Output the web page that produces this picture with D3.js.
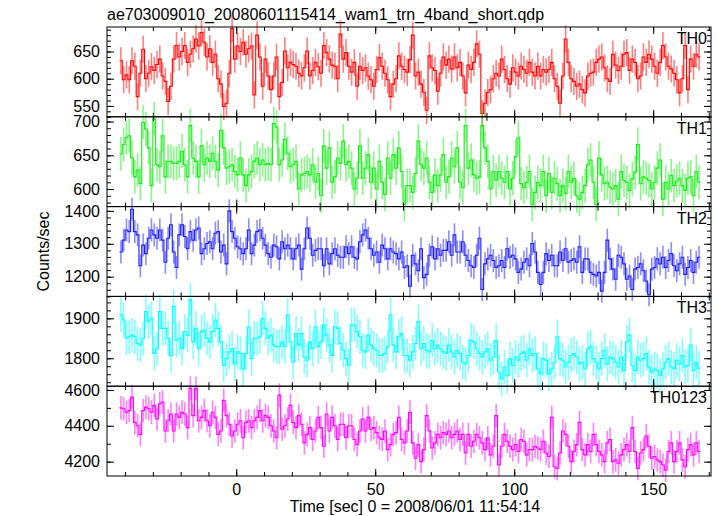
<!DOCTYPE html>
<html><head><meta charset="utf-8">
<script src="https://cdn.jsdelivr.net/npm/d3@7"></script>
<style>
body{margin:0;background:#fff}
text{font-family:"Liberation Sans",Arial,Helvetica,sans-serif;fill:#000}
</style>
</head><body>
<svg id="chart" width="717" height="516"></svg>
<script>
const titleText = "ae703009010_20080601115414_wam1_trn_4band_short.qdp";
const xLabelText = "Time [sec] 0 = 2008/06/01 11:54:14";
const yLabelText = "Counts/sec";
const panelNames = ["TH0", "TH1", "TH2", "TH3", "TH0123"];
const panelColors = ["#ff0000", "#11ee11", "#1a1aff", "#00ffff", "#ff00ff"];
const binStart = -42;   // left edge of first 1-s bin
const binWidth = 1;

const th0 = [
633,598,607,598,633,623,567,610,654,600,
610,622,615,626,636,605,595,558,586,636,
661,640,650,661,630,645,655,673,660,685,
667,640,655,630,645,600,590,549,555,610,
692,636,660,650,667,645,655,660,570,680,
640,586,636,605,580,605,640,567,593,651,
620,630,626,623,610,605,620,651,605,615,
630,622,610,661,648,636,625,623,600,682,
636,648,623,612,630,586,623,615,620,605,
598,586,617,639,623,610,598,567,590,600,
642,623,617,612,635,680,605,612,590,575,
542,642,620,615,577,610,640,625,636,618,
640,620,630,605,574,625,617,630,664,645,
536,555,575,580,600,610,605,636,617,600,
590,620,612,605,623,617,610,630,612,605,
623,605,617,612,617,630,600,586,555,605,
673,630,600,595,586,590,580,574,605,610,
612,630,636,640,620,600,595,645,625,615,
623,645,648,615,636,630,600,605,640,630,
645,636,623,610,630,661,640,623,618,610,
598,574,600,661,580,636,623,645,640
];
const th1 = [
652,666,676,679,646,618,628,608,699,689,
661,605,704,636,633,679,618,641,641,638,
638,641,656,636,618,694,646,641,618,664,
636,646,641,653,641,628,687,661,631,633,
636,626,621,646,621,605,621,626,641,646,
636,643,636,638,636,697,692,636,643,674,
653,633,636,641,600,621,623,626,621,636,
610,623,590,664,631,661,610,618,646,638,
671,636,641,631,600,616,664,616,631,651,
610,631,600,641,610,592,646,616,651,631,
661,626,577,605,605,595,623,671,636,631,
646,610,595,621,605,621,651,610,618,646,
633,661,610,602,694,631,643,621,616,618,
694,661,641,600,626,613,626,616,610,626,
600,616,648,676,608,602,610,626,577,595,
610,605,626,590,623,595,616,608,590,605,
593,626,610,616,590,585,595,605,636,643,
610,577,646,621,608,610,603,600,605,585,
626,613,610,598,615,625,666,608,618,616,
613,600,610,631,643,585,610,600,620,605,
612,616,605,598,616,618,590,626,610
];
const th2 = [
1275,1311,1342,1337,1405,1337,1327,1233,1296,1270,
1317,1342,1327,1317,1342,1311,1244,1317,1358,1275,
1228,1327,1358,1322,1285,1337,1311,1342,1348,1270,
1285,1301,1306,1285,1332,1337,1275,1296,1239,1400,
1337,1317,1291,1285,1270,1285,1342,1270,1296,1337,
1342,1317,1296,1270,1259,1296,1291,1254,1306,1285,
1296,1285,1254,1285,1296,1223,1285,1348,1317,1265,
1280,1285,1285,1233,1285,1239,1270,1285,1265,1259,
1259,1291,1270,1291,1259,1254,1306,1327,1342,1317,
1285,1265,1275,1244,1296,1285,1254,1285,1275,1270,
1254,1275,1228,1233,1171,1265,1239,1218,1285,1197,
1207,1265,1291,1254,1285,1265,1280,1280,1306,1265,
1327,1275,1275,1306,1265,1249,1233,1228,1265,1317,
1161,1239,1254,1265,1249,1228,1233,1249,1228,1285,
1259,1265,1254,1213,1223,1244,1254,1233,1301,1275,
1213,1176,1213,1270,1249,1265,1233,1233,1275,1249,
1285,1244,1249,1254,1244,1291,1213,1254,1254,1213,
1207,1202,1213,1156,1213,1311,1254,1223,1192,1265,
1259,1239,1192,1202,1161,1223,1228,1239,1218,1187,
1145,1223,1228,1254,1239,1259,1228,1249,1270,1233,
1218,1239,1259,1207,1228,1249,1213,1244,1259
];
const th3 = [
1909,1896,1850,1854,1858,1854,1837,1833,1850,1917,
1892,1900,1812,1824,1917,1875,1875,1850,1807,1930,
1845,1850,1824,1867,1858,1947,1841,1875,1824,1867,
1871,1850,1841,1867,1896,1875,1841,1782,1799,1816,
1824,1786,1816,1812,1773,1812,1879,1799,1850,1850,
1854,1900,1875,1850,1858,1833,1829,1829,1841,1829,
1909,1841,1790,1862,1833,1862,1803,1795,1841,1824,
1879,1829,1841,1884,1858,1833,1807,1879,1875,1837,
1820,1799,1782,1884,1883,1867,1854,1820,1816,1858,
1833,1824,1820,1807,1807,1812,1829,1909,1833,1816,
1854,1862,1807,1807,1795,1816,1837,1892,1824,1837,
1820,1816,1845,1824,1833,1824,1816,1812,1833,1816,
1803,1820,1812,1790,1786,1807,1845,1841,1824,1812,
1803,1816,1824,1795,1803,1845,1765,1748,1778,1756,
1799,1782,1803,1795,1812,1816,1795,1824,1807,1812,
1773,1761,1799,1795,1761,1773,1790,1854,1799,1795,
1778,1790,1807,1812,1803,1786,1790,1773,1824,1829,
1799,1790,1773,1799,1820,1786,1803,1799,1790,1778,
1803,1769,1841,1858,1782,1769,1803,1795,1799,1812,
1778,1765,1773,1769,1756,1773,1790,1799,1778,1773,
1795,1786,1807,1778,1782,1833,1769,1790,1775
];
const th0123 = [
4500,4495,4476,4485,4561,4419,4400,4352,4485,4504,
4495,4476,4514,4438,4523,4533,4371,4428,4466,4371,
4466,4447,4476,4466,4390,4609,4457,4609,4428,4447,
4485,4428,4400,4476,4447,4352,4371,4542,4457,4409,
4343,4371,4409,4428,4333,4419,4428,4390,4428,4447,
4485,4428,4457,4447,4400,4371,4333,4571,4381,4400,
4438,4514,4419,4390,4457,4409,4305,4352,4390,4324,
4371,4447,4390,4286,4466,4371,4447,4400,4324,4409,
4409,4333,4400,4400,4324,4295,4371,4438,4371,4447,
4381,4390,4362,4333,4324,4371,4267,4295,4352,4362,
4447,4324,4305,4371,4476,4305,4219,4295,4200,4267,
4457,4371,4276,4305,4352,4333,4362,4352,4371,4333,
4352,4371,4324,4352,4248,4352,4286,4314,4352,4333,
4305,4267,4333,4238,4286,4457,4181,4286,4352,4314,
4286,4267,4295,4257,4324,4314,4238,4267,4267,4286,
4276,4267,4314,4248,4229,4447,4172,4162,4248,4371,
4352,4286,4200,4257,4295,4419,4267,4238,4295,4257,
4352,4295,4257,4238,4200,4305,4324,4200,4210,4191,
4238,4267,4295,4257,4390,4257,4162,4248,4267,4343,
4286,4219,4229,4210,4200,4181,4153,4257,4305,4200,
4257,4305,4210,4172,4267,4295,4238,4305,4257
];
const seriesValues = [th0, th1, th2, th3, th0123];
const errHalf = [25, 25, 35, 43, 66];           // typical 1-sigma per bin
const yDomains = [[530, 695], [574, 707], [1140, 1413], [1730, 1955], [4120, 4621]];
const yMajor = [[550, 600, 650], [600, 650, 700], [1200, 1300, 1400], [1800, 1900], [4200, 4400, 4600]];
const yMinorStep = [10, 10, 20, 20, 100];
const xDomain = [-46.5, 170.8];
const xMajor = [0, 50, 100, 150];
const xMinorStep = 10;

const W = 717, H = 516;
const L = 107, R = 711, T = 27, B = 476;
const nP = panelNames.length;
const pH = (B - T) / nP;
const FS = 16;
const svg = d3.select("#chart");
svg.append("rect").attr("width", W).attr("height", H).attr("fill", "#fff");

const x = d3.scaleLinear().domain(xDomain).range([L, R]);
const xMinorTicks = d3.range(Math.ceil(xDomain[0] / xMinorStep) * xMinorStep, xDomain[1], xMinorStep);

svg.append("text").attr("x", L).attr("y", 20).attr("font-size", FS).text(titleText);

seriesValues.forEach((vals, p) => {
  const top = T + p * pH, bot = top + pH;
  const y = d3.scaleLinear().domain(yDomains[p]).range([bot, top]);
  const g = svg.append("g");
  const col = panelColors[p];
  const centers = vals.map((v, i) => binStart + (i + 0.5) * binWidth);

  // error bars
  g.append("g").selectAll("line").data(vals).join("line")
    .attr("x1", (v, i) => x(centers[i])).attr("x2", (v, i) => x(centers[i]))
    .attr("y1", v => y(v - errHalf[p])).attr("y2", v => y(v + errHalf[p]))
    .attr("stroke", col).attr("stroke-opacity", 0.5).attr("stroke-width", 1.6);

  // step line
  const pts = vals.map((v, i) => [binStart + i * binWidth, v]);
  pts.push([binStart + vals.length * binWidth, vals[vals.length - 1]]);
  g.append("path").datum(pts)
    .attr("d", d3.line().x(d => x(d[0])).y(d => y(d[1])).curve(d3.curveStepAfter))
    .attr("fill", "none").attr("stroke", col).attr("stroke-width", 1.1);

  // y axes (ticks inward)
  const yMinorTicks = d3.range(Math.ceil(yDomains[p][0] / yMinorStep[p]) * yMinorStep[p], yDomains[p][1], yMinorStep[p]);
  const axL = svg.append("g").attr("transform", `translate(${L},0)`)
    .call(d3.axisLeft(y).tickValues(yMajor[p]).tickSize(-7).tickPadding(7).tickFormat(d3.format("d")));
  axL.selectAll("text").attr("font-size", FS);
  svg.append("g").attr("transform", `translate(${L},0)`)
    .call(d3.axisLeft(y).tickValues(yMinorTicks).tickSize(-4).tickFormat(""));
  svg.append("g").attr("transform", `translate(${R},0)`)
    .call(d3.axisRight(y).tickValues(yMajor[p]).tickSize(-7).tickFormat(""));
  svg.append("g").attr("transform", `translate(${R},0)`)
    .call(d3.axisRight(y).tickValues(yMinorTicks).tickSize(-4).tickFormat(""));

  // x ticks on top and bottom of each panel
  const axB = svg.append("g").attr("transform", `translate(0,${bot})`)
    .call(d3.axisBottom(x).tickValues(xMajor).tickSize(-7).tickPadding(8)
      .tickFormat(p === nP - 1 ? d3.format("d") : ""));
  axB.selectAll("text").attr("font-size", FS);
  svg.append("g").attr("transform", `translate(0,${bot})`)
    .call(d3.axisBottom(x).tickValues(xMinorTicks).tickSize(-4).tickFormat(""));
  svg.append("g").attr("transform", `translate(0,${top})`)
    .call(d3.axisTop(x).tickValues(xMajor).tickSize(-7).tickFormat(""));
  svg.append("g").attr("transform", `translate(0,${top})`)
    .call(d3.axisTop(x).tickValues(xMinorTicks).tickSize(-4).tickFormat(""));

  svg.append("text").attr("x", R - 4).attr("y", top + 17).attr("text-anchor", "end")
    .attr("font-size", FS).text(panelNames[p]);
});

svg.selectAll(".domain").remove();
svg.selectAll(".tick line").attr("stroke", "#000");

// frames
d3.range(nP).forEach(p => {
  svg.append("rect").attr("x", L).attr("y", T + p * pH).attr("width", R - L).attr("height", pH)
    .attr("fill", "none").attr("stroke", "#000").attr("stroke-width", 1);
});

svg.append("text").attr("transform", `translate(49,${(T + B) / 2}) rotate(-90)`)
  .attr("text-anchor", "middle").attr("font-size", FS).text(yLabelText);
svg.append("text").attr("x", 415).attr("y", 512).attr("text-anchor", "middle")
  .attr("font-size", FS).text(xLabelText);
</script>
</body></html>
